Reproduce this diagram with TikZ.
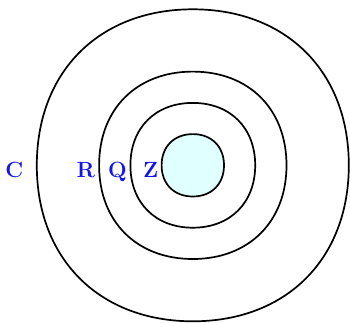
\documentclass[tikz,border=0pt]{standalone}
\usepackage{fontspec}
\setmainfont{Latin Modern Roman}
\definecolor{innerfill}{RGB}{224,255,255}
\definecolor{lblblue}{RGB}{20,20,240}
\newcommand{\blobpath}[1]{(#1,0) .. controls (#1,0.6*#1) and (0.6*#1,#1) .. (0,#1) .. controls (-0.6*#1,#1) and (-#1,0.6*#1) .. (-#1,0) .. controls (-#1,-0.6*#1) and (-0.6*#1,-#1) .. (0,-#1) .. controls (0.6*#1,-#1) and (#1,-0.6*#1) .. (#1,0) -- cycle}
\begin{document}
\begin{tikzpicture}[x=1pt,y=1pt,
  setline/.style={draw=black,line width=1.7pt},
  setlabel/.style={text=lblblue,font=\fontsize{22}{24}\selectfont\bfseries,anchor=base east,inner sep=0pt}]
\useasboundingbox (0,0) rectangle (350,322);
\begin{scope}[shift={(192.8,156.7)}]
  \path[setline,fill=innerfill] \blobpath{31.2};
  \path[setline] \blobpath{62.4};
  \path[setline] \blobpath{93.7};
  \path[setline] \blobpath{156};
\end{scope}
\node[setlabel] (lc) at (23.5,144.5) {C};
\node[setlabel] (lr) at (95.3,144.5) {R};
\node[setlabel] (lq) at (127,144.5) {Q};
\node[setlabel] (lz) at (158.5,144.5) {Z};
\end{tikzpicture}
\end{document}
